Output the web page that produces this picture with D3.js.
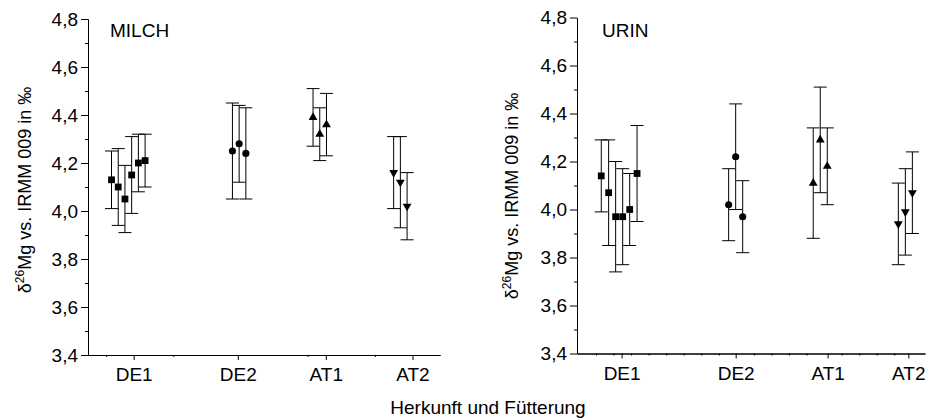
<!DOCTYPE html>
<html>
<head>
<meta charset="UTF-8">
<title>d26Mg Milch / Urin</title>
<style>
body { margin: 0; background: #fff; }
svg { display: block; }
text { font-family: "Liberation Sans", Arial, sans-serif; fill: #000; }
.axis text { font-size: 19px; font-family: "Liberation Sans", Arial, sans-serif; }
.axis path, .axis line { stroke: #000; stroke-width: 1; }
.bar { stroke: #000; stroke-width: 1; fill: none; }
</style>
</head>
<body>
<svg width="930" height="419"></svg>
<script src="https://d3js.org/d3.v7.min.js"></script>
<script>
// categories and ticks
const categories = ["DE1", "DE2", "AT1", "AT2"];
const yTicks = [3.4, 3.6, 3.8, 4.0, 4.2, 4.4, 4.6, 4.8];
const yMinorTicks = [3.5, 3.7, 3.9, 4.1, 4.3, 4.5, 4.7];

// MILCH panel
const milchCatPos = [1.41, 2.96, 4.27, 5.56];
const milchMinorX = [1, 2, 4, 5];
const milchGroup = [0, 0, 0, 0, 0, 0, 1, 1, 1, 2, 2, 2, 3, 3, 3];
const milchX = [1.08, 1.18, 1.28, 1.38, 1.48, 1.58, 2.88, 2.98, 3.08, 4.08, 4.18, 4.28, 5.28, 5.38, 5.48];
const milchMean = [4.13, 4.10, 4.05, 4.15, 4.20, 4.21, 4.25, 4.28, 4.24, 4.39, 4.32, 4.36, 4.16, 4.12, 4.02];
const milchLow = [4.01, 3.94, 3.91, 3.99, 4.08, 4.10, 4.05, 4.12, 4.05, 4.27, 4.21, 4.23, 4.01, 3.93, 3.88];
const milchHigh = [4.25, 4.26, 4.19, 4.31, 4.32, 4.32, 4.45, 4.44, 4.43, 4.51, 4.43, 4.49, 4.31, 4.31, 4.16];

// URIN panel
const urinCatPos = [2.46, 8.96, 14.2, 18.8];
const urinMinorX = [1, 2, 3, 4, 5, 6, 7, 8, 10, 11, 12, 13, 15, 16, 17, 18];
const urinGroup = [0, 0, 0, 0, 0, 0, 1, 1, 1, 2, 2, 2, 3, 3, 3];
const urinX = [1.30, 1.72, 2.12, 2.52, 2.92, 3.34, 8.56, 8.96, 9.36, 13.38, 13.78, 14.18, 18.23, 18.63, 19.03];
const urinMean = [4.14, 4.07, 3.97, 3.97, 4.00, 4.15, 4.02, 4.22, 3.97, 4.11, 4.29, 4.18, 3.94, 3.99, 4.07];
const urinLow = [3.99, 3.85, 3.74, 3.77, 3.85, 3.95, 3.87, 4.00, 3.82, 3.88, 4.07, 4.02, 3.77, 3.81, 3.90];
const urinHigh = [4.29, 4.29, 4.20, 4.17, 4.15, 4.35, 4.17, 4.44, 4.12, 4.34, 4.51, 4.34, 4.11, 4.17, 4.24];

var svg = d3.select("svg");
var fmt = d3.formatLocale({decimal: ",", thousands: ".", grouping: [3], currency: ["", ""]}).format(".1f");

var symbols = [
  d3.symbol().type(d3.symbolSquare).size(46),
  d3.symbol().type(d3.symbolCircle).size(40),
  d3.symbol().type(d3.symbolTriangle).size(34),
  d3.symbol().type(d3.symbolTriangle).size(34)
];

var panels = [
  {name: "MILCH", cat: milchCatPos, minor: milchMinorX, group: milchGroup, x: milchX, mean: milchMean, lo: milchLow, hi: milchHigh,
   xDomain: [0.73, 5.97], xRange: [88, 440], yRange: [355, 19], titleX: 31, titleY: 190, labelX: 110},
  {name: "URIN", cat: urinCatPos, minor: urinMinorX, group: urinGroup, x: urinX, mean: urinMean, lo: urinLow, hi: urinHigh,
   xDomain: [-0.083, 19.75], xRange: [577, 925], yRange: [353.5, 17.5], titleX: 518, titleY: 196, labelX: 602}
];

panels.forEach(p => {
  var x = d3.scaleLinear().domain(p.xDomain).range(p.xRange),
      y = d3.scaleLinear().domain([3.4, 4.8]).range(p.yRange),
      g = svg.append("g");

  // y axis with minor ticks
  g.append("g").attr("class", "axis")
      .attr("transform", "translate(" + p.xRange[0] + ",0)")
      .call(d3.axisLeft(y).tickValues(yMinorTicks).tickSize(3).tickSizeOuter(0).tickFormat(""));
  g.append("g").attr("class", "axis")
      .attr("transform", "translate(" + p.xRange[0] + ",0)")
      .call(d3.axisLeft(y).tickValues(yTicks).tickSize(7).tickSizeOuter(0).tickPadding(3).tickFormat(fmt));

  // x axis, custom category ticks
  g.append("g").attr("class", "axis")
      .attr("transform", "translate(0," + p.yRange[0] + ")")
      .call(d3.axisBottom(x).tickValues(p.minor).tickSize(2).tickSizeOuter(0).tickFormat(""));
  g.append("g").attr("class", "axis")
      .attr("transform", "translate(0," + p.yRange[0] + ")")
      .call(d3.axisBottom(x).tickValues(p.cat).tickSize(5).tickSizeOuter(0).tickPadding(8)
        .tickFormat((d, i) => categories[i]));

  // error bars
  var idx = d3.range(p.mean.length);
  var bars = g.selectAll(".bar").data(idx).enter().append("g").attr("class", "bar");
  bars.append("line")
      .attr("x1", i => x(p.x[i])).attr("x2", i => x(p.x[i]))
      .attr("y1", i => y(p.lo[i])).attr("y2", i => y(p.hi[i]));
  bars.append("line")
      .attr("x1", i => x(p.x[i]) - 6.5).attr("x2", i => x(p.x[i]) + 6.5)
      .attr("y1", i => y(p.hi[i])).attr("y2", i => y(p.hi[i]));
  bars.append("line")
      .attr("x1", i => x(p.x[i]) - 6.5).attr("x2", i => x(p.x[i]) + 6.5)
      .attr("y1", i => y(p.lo[i])).attr("y2", i => y(p.lo[i]));

  // markers
  g.selectAll(".pt").data(idx).enter().append("path")
      .attr("class", "pt")
      .attr("d", i => symbols[p.group[i]]())
      .attr("fill", "#000")
      .attr("transform", i => "translate(" + x(p.x[i]) + "," + y(p.mean[i]) + ")" + (p.group[i] === 3 ? " rotate(180)" : ""));

  // panel label
  g.append("text").attr("x", p.labelX).attr("y", 37).style("font-size", "19px").text(p.name);

  // y title
  var t = g.append("text")
      .attr("transform", "translate(" + p.titleX + "," + p.titleY + ") rotate(-90)")
      .attr("text-anchor", "middle")
      .style("font-size", "18px");
  t.append("tspan").text("δ");
  t.append("tspan").attr("dy", -7).style("font-size", "12px").text("26");
  t.append("tspan").attr("dy", 7).text("Mg vs. IRMM 009 in ‰");
});

svg.append("text")
    .attr("x", 488).attr("y", 414)
    .attr("text-anchor", "middle")
    .style("font-size", "19px")
    .text("Herkunft und Fütterung");
</script>
</body>
</html>
